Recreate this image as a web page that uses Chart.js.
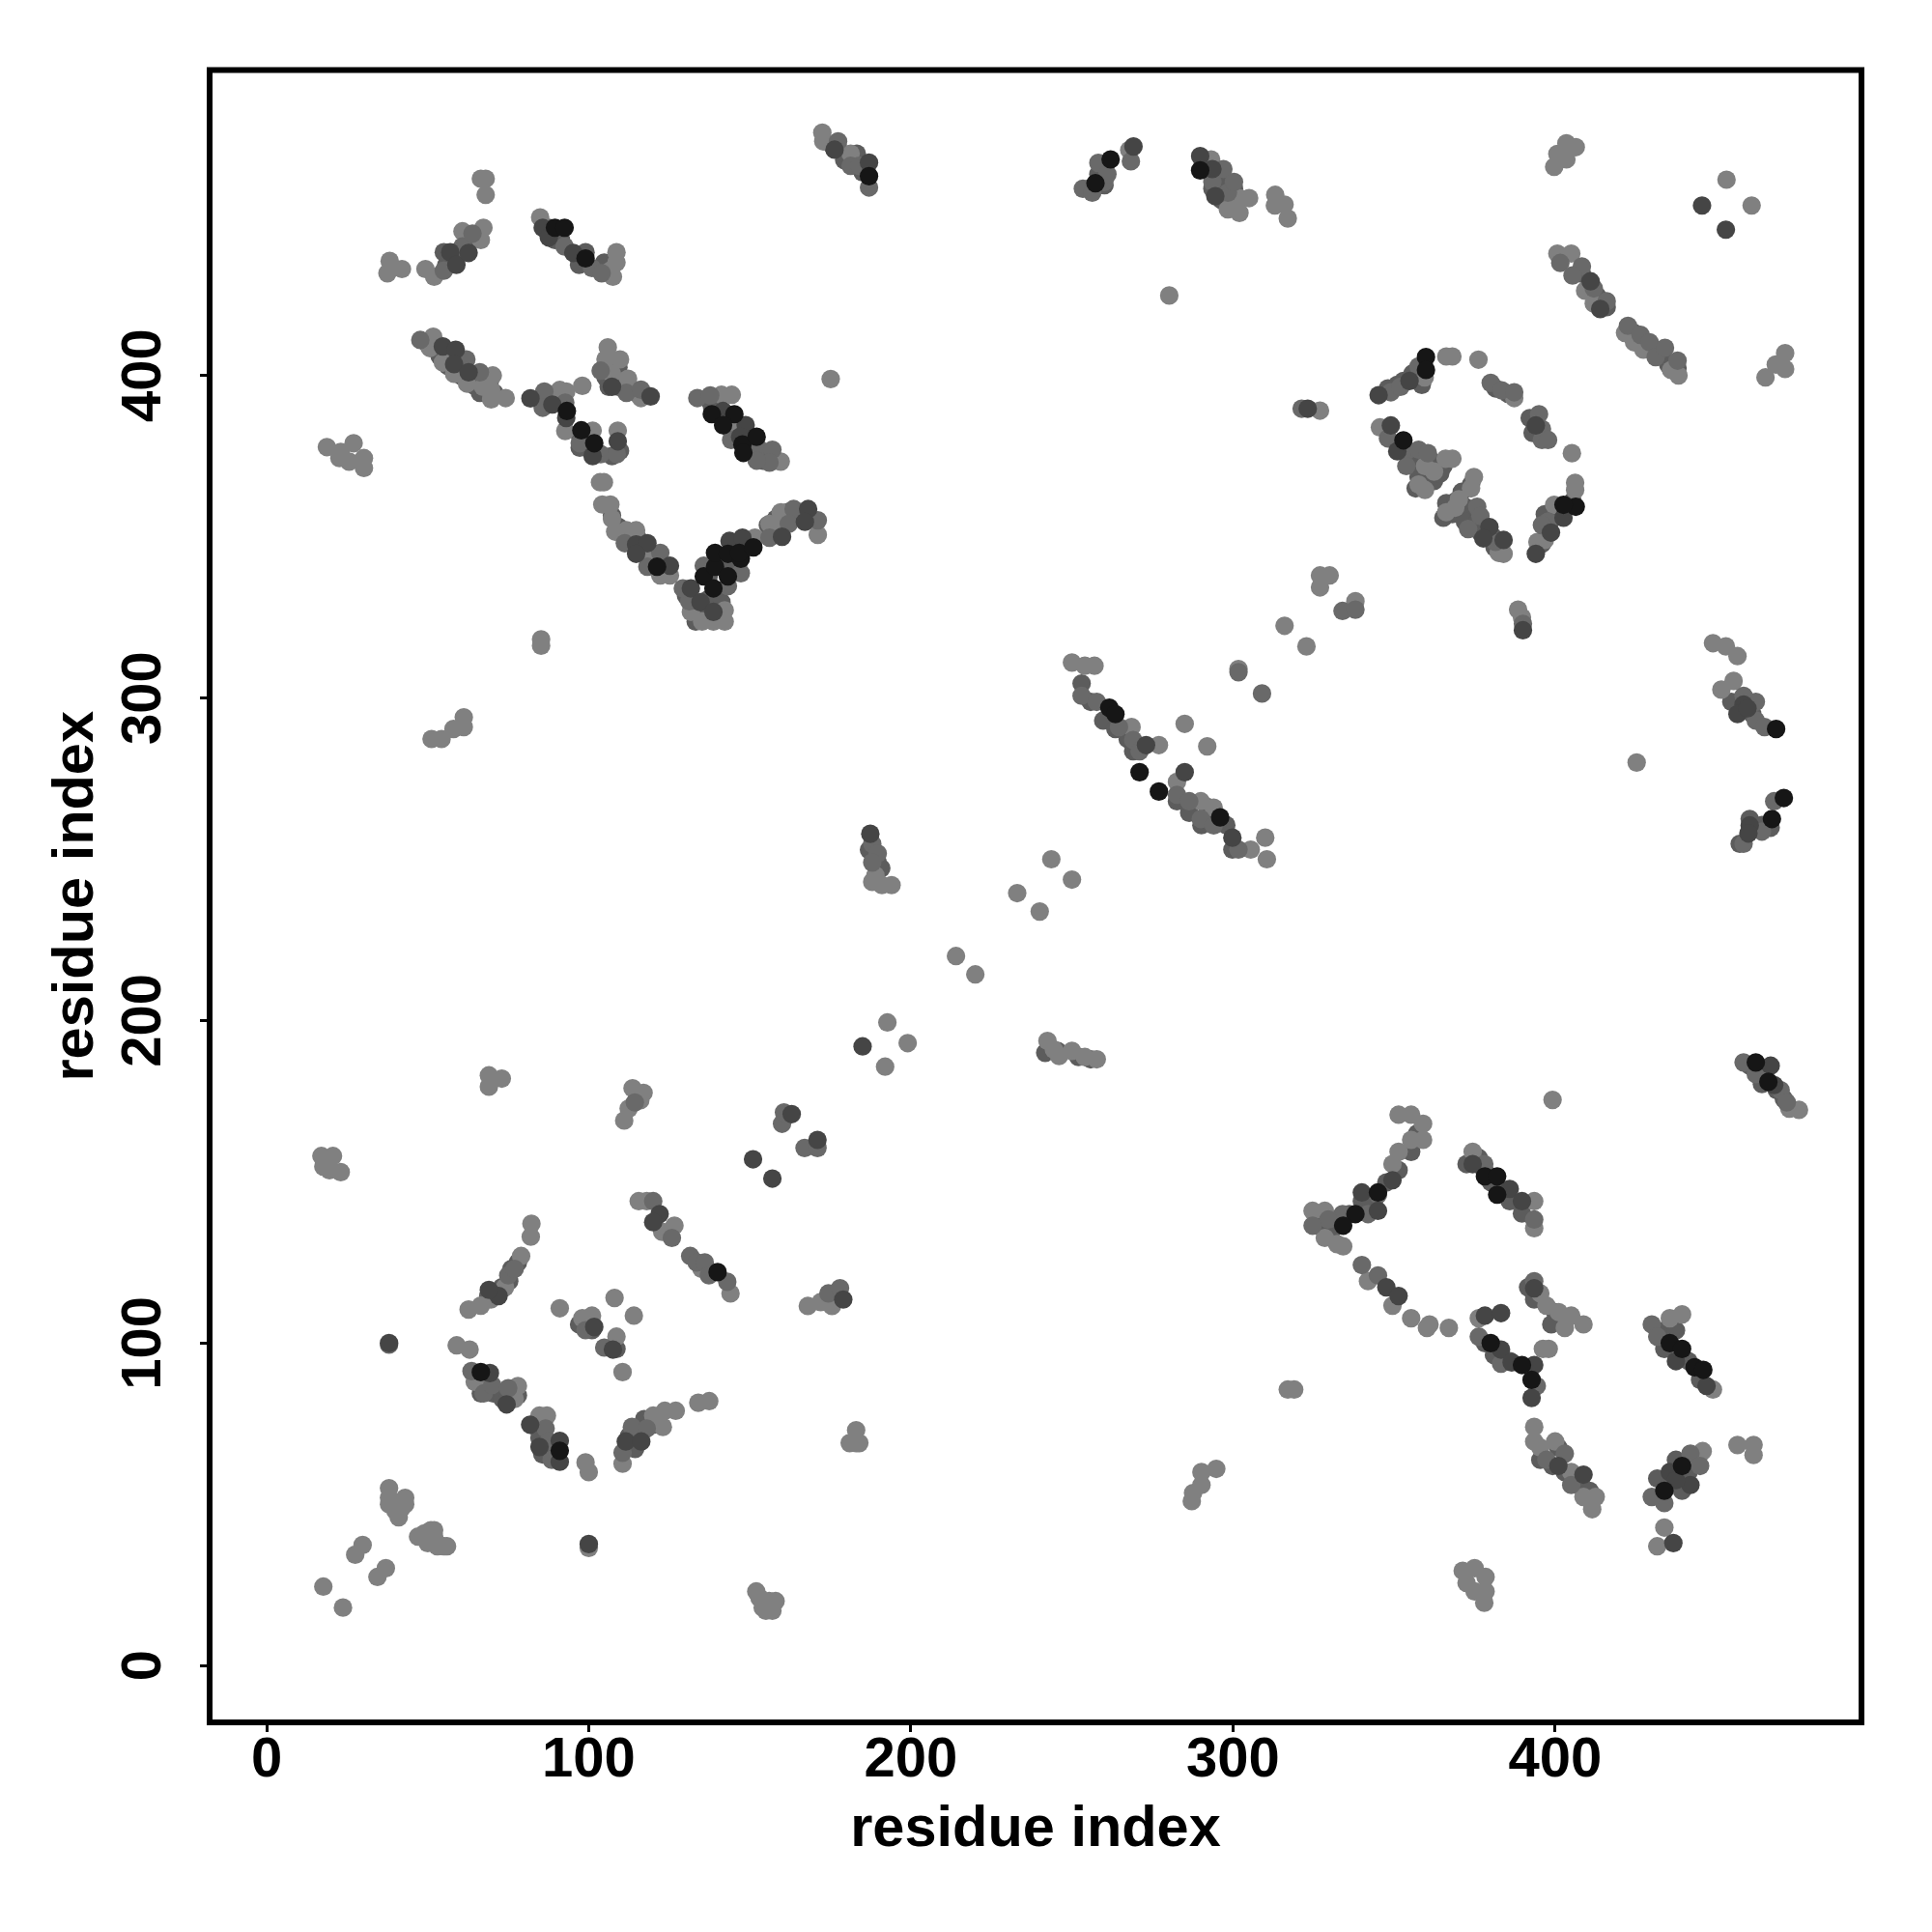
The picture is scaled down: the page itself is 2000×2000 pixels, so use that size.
<!DOCTYPE html>
<html><head><meta charset="utf-8">
<style>html,body{margin:0;padding:0;background:#fff}canvas{display:block}</style>
<script src="https://cdn.jsdelivr.net/npm/chart.js@4/dist/chart.umd.min.js"></script>
</head><body><canvas id="c" width="2000" height="2000"></canvas>
<script>
const axisTitle = "residue index";
const tickStep = 100;
const xRange = [-17.7, 495.1];
const yRange = [-17.6, 494.7];

const contactsBlack = [
[66.5,91],[91,66.6],[140,122],[261.6,297],[263.5,295],[271,277],[277,271],[296,263],[345,146.7],[338,140],[334.2,136.4],
[378.2,151.7],[382,151.7],[382,146],[380,100],[389.7,93.2],[392.7,88.6],[435.6,100],[439.4,98.2],[443.3,92.5],[446,91.7],
[433.9,54.2],[439.4,61.9],[462.3,187],[466.2,181],[468.6,290.4],[467.3,262.5],[471,269],[257.3,459.6],[262,467],[289.8,463.6],
[359.9,405.7],[359.9,401.7],[406.4,359.3],[402.6,359.9],[352.9,379.9],[93.2,389],[97.7,383],[101.7,379],[138.2,388],[145.2,388],
[141.7,384.6],[147.7,378.6],[152.1,381],[148,376],[121.2,340.7],[135.7,337.7],[138.7,334],[139.2,340.7],[139.2,345],[143.2,337.7],
[143.2,344.7],[147.2,343.2],[146.7,345],[151.1,346.7],[89.5,445.8],[92.5,445.8],[99,436.3],[187,461.8]
];
const contactsDark = [
[69.3,90.7],[74.5,81],[81.8,74.7],[84.7,67.8],[91,69.7],[91,63.2],[111.5,69.5],[116.3,69.5],[100,37.7],[38,100],[72,114.6],[69,116.5],
[101.7,105],[107.5,98],[122,140],[120,137.5],[151,157],[157,151],[163,171],[171,163],[179,113.5],[185,192],[187.4,257.9],[273,285.4],
[285,277],[299.8,256.7],[349.5,150.5],[340,146.7],[345,141],[347.6,117.3],[351.4,114.6],[374.4,155.5],[385.9,147.8],[389.7,144],
[378.2,108.5],[383.2,109.3],[383.2,98],[386.5,94],[393.5,93.2],[392.7,83],[393.5,117],[401,61.9],[408.8,59.2],[437.5,94.4],[447,86.7],
[435.6,60],[442,56],[437.5,57.5],[436.7,38],[458.5,298],[456.6,295],[459.7,296.8],[460.4,260.5],[460,258],[466.9,186],[468,180],
[269.1,471],[289.8,468],[293.6,464],[294.5,455.6],[445.6,452.7],[453,445.2],[411,429.2],[414,420.6],[345.2,393.9],[354.8,398.3],
[402.6,355.9],[398.7,351.3],[394,344.7],[349,384.5],[351,376.5],[379.6,353],[377.7,349.5],[384,349],[323.2,389.7],[394,384.5],[390,321],
[54.7,409],[58.7,408],[58.2,403.5],[62.7,401],[81.9,392.9],[88.7,391],[93,386.8],[101.2,375],[109,379.6],[107.2,396.5],[119.2,393.5],
[141.7,389],[148.7,384.6],[147,381],[114.7,347.6],[118.2,348],[114.7,344.7],[125.2,341],[131.7,334],[134.7,329.7],[138.7,326.7],
[143.7,348.7],[147.7,349.7],[160,350],[168.1,358.6],[167.1,354.6],[57,438.2],[58.9,434.3],[62.7,438],[85.7,445.8],[87.6,442.8],[95.2,438],
[176.3,470],[187,466]
];
const contactsShaded = [
[50.2,409.5],[53.7,406],[56.2,403],[60.2,400],[64.2,397],[66.2,394.6],[69.2,397.6],[70.7,394.6],[88.2,392.6],[90.2,394.6],[85.2,392.6],
[97.2,381.6],[97.2,377.6],[99.2,379.6],[101.2,376.6],[107.2,375],[109.7,376.6],[107.2,403.5],[109.2,402.5],[105.2,399.5],[106.2,396.5],
[109.2,396.5],[113.2,395.6],[114.7,394.6],[111.2,398.5],[137.2,392.6],[138.2,390.6],[143.7,383.6],[145.2,386.6],[147.7,383.6],[150.1,379.6],
[149.1,377],[153.6,375],[155.1,375.6],[157.6,373.6],[154.1,373.6],[133.2,326.7],[137.2,330.7],[141.2,329.7],[137.2,324.7],[133.2,323.7],
[130.2,331.7],[140.2,326.7],[141.2,340.7],[145.7,346.7],[149.1,347.7],[143.2,341.7],[137.2,337.7],[155.6,353.6],[158.1,355.6],[161.6,357.6],
[157.1,350.6],[165.1,356.6],[107.2,356.6],[109.2,353.1],[113.2,349.6],[116.2,345.7],[115.2,349.6],[351,397.1],[352.9,398.3],[355.7,400.6],
[358.6,397.1],[348.1,396],[381.5,396],[385.4,394.3],[395,382.2],[392.1,386.8],[393,382.2],[351,378.8],[354.8,374.2],[357.6,373],[362.4,373],
[360.5,368.5],[365.3,371.9],[357.6,368.5],[362.4,367.3],[356.7,365],[364.3,369.6],[373.9,366.2],[371,363.9],[366.2,360.4],[369.1,361],[372,359.3],
[374,357],[368.1,357],[365.3,355.9],[372,354.7],[375.8,354.7],[376.8,351.3],[380.6,350.1],[381.2,346.7],[396.8,357],[399.7,355.9],[397.8,352.4],
[395.9,347.8],[401.6,358.2],[405.4,361],[408.3,431.5],[410.2,426.9],[413.1,424.6],[414,421.8],[416,421.2],[424.5,413.2],[427.4,410.9],[430.3,408.6],
[433.2,406.3],[438,402.3],[435.1,403.4],[293.6,462.4],[297.4,459],[300.3,457.9],[296.4,454.4],[293.6,457.9],[258.2,462.4],[255.3,457.9],[260.1,459],
[351.4,153.6],[347.6,149.8],[343.8,144],[340,144],[336.1,140],[332.3,138.3],[326.6,136.4],[330.4,134.5],[355.3,159.3],[357.2,165],[378,153.6],
[382,149],[385.9,144],[389.7,140.2],[376.3,157.4],[372.5,155.5],[380,149.9],[391.6,117.3],[393.5,113.5],[400,109.6],[398.8,105.8],[386,94.4],
[378.2,100],[381,96.3],[395.4,63.8],[399.2,61.9],[403,60],[406.9,56.2],[401,67.6],[410.7,54.2],[433.9,103.9],[433.9,98.2],[437.5,103.9],[441.4,94.4],
[445,88.6],[431.7,58],[437.5,63.8],[441.4,60],[445,65.7],[435.6,56.2],[439.4,54.2],[66.5,84.4],[70.3,84.4],[73.2,82.7],[78,83.8],[75,83.3],[83.7,74],
[84.7,70.6],[88.5,67.2],[85.6,65.5],[89.5,64.9],[112.5,71.2],[117.2,76.4],[120,74.7],[114.4,67.2],[97,105.8],[101,104],[108.6,98.2],[73,117.3],[76,123],
[78,125],[75.3,119.2],[68.8,114.6],[58.9,438.2],[55.8,434.3],[60.8,438.2],[63.5,442],[55,438.2],[104.8,435],[99,438.2],[91.4,442],[87.6,445.8],[89.5,442],
[97,434.3],[177.4,470.6],[179.3,466.8],[175.5,471.4],[183.2,468.8],[185,463],[255.8,298.8],[259.7,293],[263.5,290.4],[267.3,287.3],[269,283.5],[282.6,268],
[286.4,264.4],[290.2,260.6],[294,262.5],[292,266.2],[297.9,260.6],[299.8,253],[253,304.5],[460.4,262.5],[457.3,254.8],[464.2,260.6],[466.9,259.8],
[458.5,296.8],[461.2,295],[454.7,298.8],[464.2,180.3],[468.8,178.4],[460.4,186],[471,175.7],[189.7,249],[187,252.9],[190.8,247.2],[241.7,190],[245.5,190.6],
[252,188.7],[255.8,188]
];
const contactsMid = [
[63.6,91.3],[67.4,84.4],[70,87],[75,86],[86.6,73.5],[87.5,69.5],[88.5,63.8],[110.5,66],[113.4,74],[118,73.5],[38,99.5],[75,121],[77,123],
[99,104],[104.8,98.6],[120,144],[125.8,132.6],[131.5,127],[133.5,125],[136,125],[137.3,121],[143,119],[114.3,174.6],[160,168],[160.6,171.5],
[167,160.5],[171,160.5],[174.4,115.4],[178,117],[188,254.8],[189.7,251.8],[188,249],[253,300.7],[257.7,298.8],[264.6,291],[269,287],
[271,283.5],[282.6,270],[286.4,268],[290,262.5],[294,260.5],[301.7,253],[309,301.4],[301.7,308],[334,327],[338,327.4],[345,146],[341.9,140],
[334,140],[329.6,138.3],[324.7,136.4],[340,124.2],[345,121],[378,155.5],[393.5,138.3],[393.5,119.2],[376.3,102],[383.2,93.6],[394.3,86.7],
[397.3,63.8],[403,65.7],[405,56],[430,105.8],[431.7,102],[442,65.7],[445,61.9],[433.9,50.4],[430,52.3],[390,323],[458.5,300.7],[462.3,298.8],
[462.3,293],[465,291],[458.5,254.8],[464.2,258.6],[468,268],[458.5,187],[462.3,183.4],[470,178.4],[471.9,174.6],[253.4,457.9],[256.3,456.7],
[258.2,465.9],[260,460],[261,462.4],[268.3,466.4],[297,464],[293.6,460],[298.4,456.7],[300.3,460],[401.6,434.9],[408.3,433.8],[405.4,431],
[412,427],[416,423],[422.6,415.4],[426.5,412.6],[429.3,410.3],[431.2,405.7],[434.1,408.6],[438,404.6],[349,394.8],[352,396.5],[357.6,402.8],
[380,397.7],[383.4,395.4],[387.3,394.8],[395,388],[395.9,383.4],[395.9,380],[397.8,380],[397.8,354.7],[395.9,353.6],[348.1,380.5],[353.8,376.5],
[357.6,377],[360.5,375.9],[353.8,371.9],[375.8,359.3],[376.8,356.4],[373,352.4],[381.5,348.4],[321.3,389.7],[47.7,411],[62,405],[66.2,401],
[86.2,395],[85.7,390],[92.7,391.6],[97.2,379],[103.7,375.6],[108.7,375.6],[103.7,401.5],[111.7,394.6],[116.2,395.6],[133.7,393],[137.7,393.8],
[144.2,380],[152.6,377.6],[157,377],[156.1,373],[152.1,373.6],[111.2,348],[118.2,340.7],[122.2,345],[131.2,330],[129.2,334],[135.7,341],
[143.2,334.7],[147.2,338.7],[156.1,349.7],[163.6,358.6],[162.1,354],[171.1,355.1],[55,432.5],[60.8,440],[63.9,444],[92.5,440],[101,433.3],
[104,431.7],[177.4,472.6],[181.3,465],[184,465],[187,458.3]
];
const contactsLight = [
[17.6,24.5],[23.7,18],[27.5,34.4],[29.8,37.4],[34.4,27.5],[37,30.2],[38,55],[38,52],[38,50],[40,48],[41,46],[43,52],[43,50],[42,49],
[47,40],[49,41],[50,38],[51,42],[52,42],[53,37],[52,40],[55,37],[56,37],[100,36.5],[152,23],[153,21],[154,18],[156,20],[157,17],[158,20],[155,17],
[181,69],[183,73],[183,69],[184,69],[100,60],[99,63],[64.6,88],[78,86.7],[77,82.7],[84.7,77.5],[87,77.5],[110.5,62.6],[120,77.5],[123,74],
[123.6,79],[127,79],[134,81.5],[137.4,82],[110.5,91],[59,99.3],[63,98],[62.7,110.4],[66.5,111.6],[69.6,113.5],[74,117.3],[79,127],[82,133],[82.2,137],
[91,110.8],[98,107.7],[101,108.5],[108,114],[114,108.5],[108.6,102],[115.5,144],[118,144],[122.8,134.5],[126.6,136.4],[135,123],[144,115.4],
[111,169],[112.4,172.7],[113.6,179],[117,177.6],[116,175.3],[69,183],[69,179.5],[73,182],[17,158],[20.6,158],[17.6,154.7],[19.5,153.6],[23,153],
[168,111.5],[172,112.7],[175.5,111.5],[192.7,199.4],[192,185.7],[199,193],[214,220],[220,214.3],[233,239.5],[240,233.8],[243.6,250],[250,243.7],
[242.4,193.7],[244.4,191],[246,189],[250,190.6],[254,188.7],[257.7,188],[189,245],[191,242],[194,242],[188,243],[250,311],[254,310],[257,310],
[268.5,291],[277,285.4],[282.6,274],[290,268],[294,266],[305.5,253],[310,256.7],[310.5,250],[285,292],[292,285],[301.7,309],[316,322.4],[322.8,316],
[327,334.3],[327,338],[330,338],[338,330],[351.4,170.8],[355.3,170.8],[359,168],[355.3,163],[359,163],[351.4,159.3],[349.5,155.5],[324.7,141],[328.5,141],
[328.5,132.6],[332.3,130.7],[334.2,130],[341.9,119.2],[349.5,111.6],[355.3,107.7],[361,105.8],[360.2,104.7],[367,104.7],[374.4,159.3],[393.5,144],
[393.5,135.6],[395.4,115.4],[397.3,111.6],[401.1,109.6],[405,108.5],[408.8,105.8],[403,104.7],[376.3,107.7],[396.2,98.2],[398,98.2],[393.5,74],
[393.5,69.5],[395.4,67.6],[400,69.5],[405,60],[408.8,52.3],[412.6,52.3],[411.5,48.5],[435.6,107.7],[439.4,108.9],[449,85.6],[445.8,66.5],[433.9,42.8],
[431.7,37],[456.6,68.4],[461.6,68.4],[461.6,65.3],[317,85.6],[319,85.6],[287.6,53.5],[287.2,51],[290.2,60],[290.2,56],[294.8,61],[371.3,29.4],[375,30.2],
[372.5,25.6],[378.4,27.5],[375,23],[378,19.5],[378.4,23],[399.2,175.4],[475.7,172.3],[472.7,172.7],[388.5,327.4],[389.7,325],[425.3,280],[449,317],[453,316],
[456.6,313],[451.6,302.6],[455.4,305.3],[293.2,467],[267.8,469.9],[298.4,451.5],[302,450.4],[302,455],[305,455],[313.1,456],[313,452.7],[316,453],
[317,448.7],[280.2,424.8],[399.7,464.7],[400.7,468.7],[403.5,467],[403.5,472],[406.4,470.8],[453.2,460.7],[461,452.7],[400.7,437.8],[405,437.8],
[409.3,426.3],[412,422.3],[421.7,413.2],[424.5,410.3],[427.4,408],[436,401.7],[438.3,400],[465.3,399.4],[468.5,403.4],[471.4,406.9],[471.4,402],
[359.5,399.4],[366.2,405.9],[368.1,405.9],[376.2,404.9],[387.3,393],[405.2,375.9],[406.2,366.7],[406.2,364.5],[399.7,359.9],[396.8,349],[394.5,348.4],
[345.6,383.9],[359.6,371.9],[368.1,374.2],[366,374.2],[362.4,370.2],[357.6,366.2],[359.6,364.5],[374.8,368.5],[373.9,365],[370.1,361.6],[366.2,357.6],
[369,359],[382.5,345],[384,344.7],[327,389.1],[51.7,412],[50.7,408.5],[54.7,404],[58.2,400.5],[62.2,397.5],[70.2,400],[67.2,396.5],[69.7,395.5],
[69.7,392.6],[74.2,393],[91,395.5],[93,395],[92.7,382.8],[98,396.8],[101.2,382.9],[109,382.9],[105.9,408.7],[109.7,405],[105.2,405],[107.2,400.5],
[112.2,399],[116.2,393],[141.2,394],[144.4,394],[145.7,385],[159.6,373.3],[175.1,398.9],[104.7,366.9],[103.5,366.9],[104.2,360],[106.7,360],[107.2,355.6],
[108.2,351.6],[111.7,352],[114.7,352],[118.7,345],[122.2,338],[125.2,338],[131.7,326.7],[135.2,323.7],[138.7,323.7],[142.2,327.2],[142.2,323.7],[151.6,349.7],
[156.1,354],[159.6,354],[159.6,357.6],[171.1,350.6],[85.2,318.2],[85.2,316.2],[18.7,377.8],[23,376.3],[27,379],[22.6,374.4],[25.6,373.3],[30.2,374.4],
[30.2,371.3],[51.2,287.3],[54.3,287.3],[58,290.4],[61.2,291],[61.2,294],[37.5,431.7],[38.2,435.5],[42,433],[49.3,433],[52,430.6],[60.8,444.7],[67.3,445.8],
[66.5,442],[66.5,461],[68,461],[68,456],[84.9,449],[106.7,432.5],[108.6,438.2],[108.6,435],[107.5,430.6],[172.5,475.3],[172.8,472.6],[181.3,468.8]
];

const toPoints = list => list.map(p => ({x: p[0], y: p[1]}));
const shade = (data, color) => ({
  data: toPoints(data), backgroundColor: color, borderWidth: 0,
  pointRadius: 9.6, pointBorderWidth: 0, pointHoverRadius: 9.6
});
const frame = {
  id: 'frame',
  afterDraw(chart) {
    const a = chart.chartArea, c = chart.ctx;
    c.save(); c.strokeStyle = '#000'; c.lineWidth = 6;
    c.strokeRect(a.left, a.top, a.right - a.left, a.bottom - a.top);
    c.restore();
  }
};
const fontFamily = '"Liberation Sans", Arial, sans-serif';
const tickFont = {family: fontFamily, size: 58, weight: 'bold'};
const titleFont = {family: fontFamily, size: 59.5, weight: 'bold', lineHeight: 1.2};
const grid = {drawOnChartArea: false, drawTicks: true, tickLength: 10, tickWidth: 3, tickColor: '#000'};

new Chart(document.getElementById('c'), {
  type: 'scatter',
  plugins: [frame],
  data: {datasets: [
    shade(contactsBlack, '#161616'),
    shade(contactsDark, '#454545'),
    shade(contactsMid, '#696969'),
    shade(contactsLight, '#808080'),
    shade(contactsShaded, '#5c5c5c')
  ]},
  options: {
    responsive: false, animation: false, devicePixelRatio: 1,
    layout: {padding: {top: 72.5, right: 73, left: 0, bottom: 0}},
    plugins: {legend: {display: false}, tooltip: {enabled: false}, title: {display: false}},
    scales: {
      x: {
        type: 'linear', min: xRange[0], max: xRange[1],
        afterFit(s) { s.height = 217; },
        border: {display: false}, grid,
        ticks: {stepSize: tickStep, includeBounds: false, autoSkip: false, maxRotation: 0, color: '#000', font: tickFont, padding: -5},
        title: {display: true, text: axisTitle, color: '#000', font: titleFont, padding: {top: 0, bottom: 70}}
      },
      y: {
        type: 'linear', min: yRange[0], max: yRange[1],
        afterFit(s) { s.width = 217; },
        border: {display: false}, grid,
        ticks: {stepSize: tickStep, includeBounds: false, autoSkip: false, minRotation: 90, maxRotation: 90, crossAlign: 'center', color: '#000', font: tickFont, padding: 9},
        title: {display: true, text: axisTitle, color: '#000', font: titleFont, padding: {top: 43.6, bottom: 0}}
      }
    }
  }
});
</script></body></html>
